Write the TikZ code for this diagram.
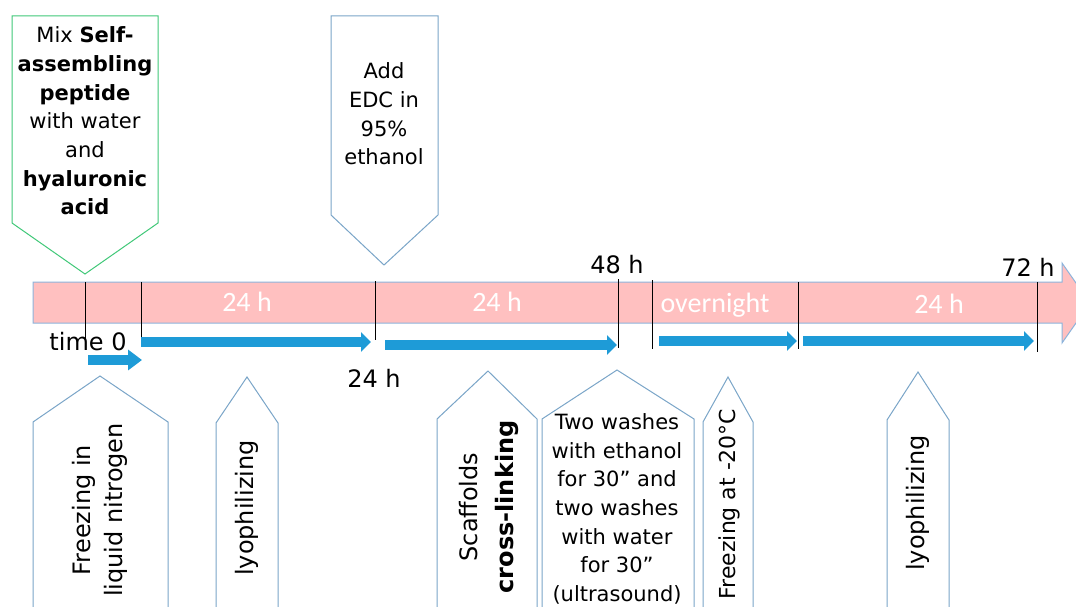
\documentclass[tikz,border=0pt]{standalone}
\usepackage{fontspec}
\setmainfont{DejaVu Sans}
\newfontfamily\barfont{Carlito}
\usetikzlibrary{arrows.meta}
\definecolor{callgreen}{RGB}{64,200,120}
\definecolor{callblue}{RGB}{122,165,200}
\definecolor{barfill}{RGB}{255,192,192}
\definecolor{barline}{RGB}{140,180,220}
\definecolor{arrblue}{RGB}{30,155,215}
\tikzset{
  callout/.style={draw=callblue, line width=1pt, fill=white, line join=miter},
  greencallout/.style={draw=callgreen, line width=1pt, fill=white},
  boxtext/.style={align=center, inner sep=0pt, font=\fontsize{21}{28.7}\selectfont},
  vtext/.style={align=center, inner sep=0pt, rotate=90},
  blacklabel/.style={inner sep=0pt, anchor=base, font=\fontsize{24}{28}\selectfont},
  whitelabel/.style={inner sep=0pt, anchor=base, text=white, font=\barfont\fontsize{28}{30}\selectfont},
  tick/.style={draw=black, line width=0.8pt},
  steparrow/.style={draw=arrblue, line width=10pt, -{Triangle[length=10pt,width=19pt]}},
}
\begin{document}
\begin{tikzpicture}[x=1pt,y=-1pt]
\useasboundingbox (0,0) rectangle (1076,607);
\clip (0,0) rectangle (1076,607);
\fill[white] (0,0) rectangle (1076,607);

% timeline bar
\draw[fill=barfill, draw=barline, line width=1pt]
  (33,282) -- (1062,282) -- (1062,263) -- (1090,303) -- (1062,343) -- (1062,323) -- (33,323) -- cycle;

% top callouts
\draw[greencallout] (12,16) -- (158,16) -- (158,223) -- (85,274) -- (12,223) -- cycle;
\node[boxtext] (mix) at (85,121) {Mix \textbf{Self-}\\\textbf{assembling}\\\textbf{peptide}\\with water\\and\\\textbf{hyaluronic}\\\textbf{acid}};
\draw[callout] (331,16) -- (438,16) -- (438,215) -- (384,265) -- (331,215) -- cycle;
\node[boxtext] (edc) at (384,114) {Add\\EDC in\\95\%\\ethanol};

% bottom callouts
\draw[callout] (33,612) -- (33,422) -- (100,376) -- (168,422) -- (168,612);
\draw[callout] (216,612) -- (216,423) -- (247,377) -- (278,423) -- (278,612);
\draw[callout] (437,612) -- (437,419) -- (488,371) -- (537,419) -- (537,612);
\draw[callout] (542,612) -- (542,419) -- (617,370) -- (694,419) -- (694,612);
\draw[callout] (703,612) -- (703,422) -- (728,377) -- (753,422) -- (753,612);
\draw[callout] (887,612) -- (887,420) -- (918,372) -- (949,420) -- (949,612);

\node[vtext, font=\fontsize{24}{32}\selectfont] (freeze) at (100,510) {Freezing in\\liquid nitrogen};
\node[vtext, font=\fontsize{24}{32}\selectfont] (lyo1) at (247,508) {lyophilizing};
\node[vtext, font=\fontsize{24}{36}\selectfont] (scaf) at (489,507) {Scaffolds\\\textbf{cross-linking}};
\node[boxtext] (wash) at (617,509) {Two washes\\with ethanol\\for 30'' and\\two washes\\with water\\for 30''\\(ultrasound)};
\node[vtext, font=\fontsize{22}{28}\selectfont] (freeze20) at (729,504) {Freezing at -20°C};
\node[vtext, font=\fontsize{24}{32}\selectfont] (lyo2) at (918,503) {lyophilizing};

% tick marks
\coordinate (t1a) at (85,282);  \coordinate (t1b) at (85,345);
\coordinate (t2a) at (141,282); \coordinate (t2b) at (141,347);
\coordinate (t3a) at (375,281); \coordinate (t3b) at (375,340);
\coordinate (t4a) at (618,279); \coordinate (t4b) at (618,348);
\coordinate (t5a) at (652,280); \coordinate (t5b) at (652,349);
\coordinate (t6a) at (798,282); \coordinate (t6b) at (798,349);
\coordinate (t7a) at (1037,282); \coordinate (t7b) at (1037,352);
\foreach \i in {1,...,7} {\draw[tick] (t\i a) -- (t\i b);}

% bar labels
\node[whitelabel] (l1) at (247,311) {24 h};
\node[whitelabel] (l2) at (497,311) {24 h};
\node[whitelabel] (l3) at (715,312) {overnight};
\node[whitelabel] (l4) at (939,313) {24 h};

% black labels
\node[blacklabel] (time0) at (88,350) {time 0};
\node[blacklabel] (h24) at (374,387) {24 h};
\node[blacklabel] (h48) at (617,273) {48 h};
\node[blacklabel] (h72) at (1028,276) {72 h};

% blue step arrows
\coordinate (a0s) at (88,360);  \coordinate (a0e) at (142,360);
\coordinate (a1s) at (141,342); \coordinate (a1e) at (371,342);
\coordinate (a2s) at (385,345); \coordinate (a2e) at (617,345);
\coordinate (a3s) at (659,341); \coordinate (a3e) at (797,341);
\coordinate (a4s) at (803,341); \coordinate (a4e) at (1034,341);
\draw[draw=arrblue, line width=10pt, -{Triangle[length=14pt,width=20pt]}] (a0s) -- (a0e);
\draw[steparrow] (a1s) -- (a1e);
\draw[steparrow] (a2s) -- (a2e);
\draw[steparrow] (a3s) -- (a3e);
\draw[steparrow] (a4s) -- (a4e);
\end{tikzpicture}
\end{document}
